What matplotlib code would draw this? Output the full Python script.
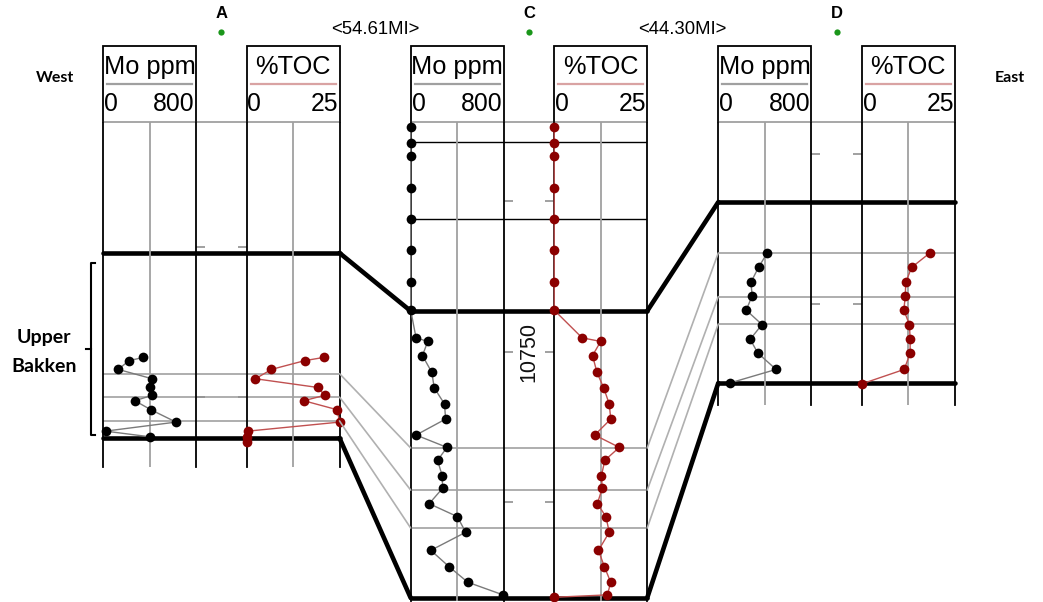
import matplotlib
matplotlib.use("Agg")
import matplotlib.pyplot as plt
from matplotlib.patches import ConnectionPatch

W, H = 1043, 602

# ------------------------------------------------------------------ data
well_names = ["A", "C", "D"]
distance_labels = ["<54.61MI>", "<44.30MI>"]
track_titles = ["Mo ppm", "%TOC"]
track_ranges = [800, 25]
track_range_labels = [("0", "800"), ("0", "25")]

# track depth range of each well (ft)
track_top_depth = [10558.6, 10673.6, 10489.4]
track_bottom_depth = [10673.1, 10832.7, 10583.4]

# Well A
a_mo_depth = [10636.8, 10637.9, 10640.8, 10643.9, 10646.8, 10649.4, 10651.2,
              10654.2, 10658.3, 10661.3, 10663.2]
a_mo = [348, 223, 131, 423, 400, 423, 274, 412, 628, 22, 406]
a_toc_depth = [10636.8, 10637.9, 10640.8, 10643.9, 10646.8, 10649.4, 10651.2,
               10654.2, 10658.3, 10661.3, 10663.2, 10664.8]
a_toc = [20.8, 15.6, 6.7, 2.4, 19.2, 21.0, 15.4, 24.4, 25.0, 0.4, 0.0, 0.0]

# Well C
c_mo_depth = [10675.3, 10680.6, 10684.9, 10695.5, 10705.8, 10716.1, 10726.8,
              10736.1, 10745.3, 10746.5, 10751.2, 10756.8, 10761.9, 10767.3,
              10772.3, 10777.6, 10781.7, 10786.0, 10791.1, 10795.3, 10800.4,
              10804.7, 10809.9, 10815.9, 10821.4, 10826.5, 10830.7]
c_mo = [0, 0, 0, 0, 0, 0, 0, 0, 46, 147, 101, 182, 202, 291, 300, 46, 312,
        231, 271, 274, 159, 401, 473, 173, 332, 491, 794]
c_toc_depth = [10675.3, 10680.6, 10684.9, 10695.5, 10705.8, 10716.1, 10726.8,
               10736.1, 10745.3, 10746.5, 10751.2, 10756.8, 10761.9, 10767.3,
               10772.3, 10777.6, 10781.7, 10786.0, 10791.1, 10795.3, 10800.4,
               10804.7, 10809.9, 10815.9, 10821.4, 10826.5, 10830.7, 10831.5]
c_toc = [0, 0, 0, 0, 0, 0, 0, 0, 7.5, 12.5, 10.3, 11.5, 13.3, 14.8, 15.2, 10.9,
         17.5, 13.6, 12.7, 12.9, 11.6, 13.9, 14.8, 11.9, 13.5, 15.2, 14.3, 0.0]

# Well D
d_mo_depth = [10533.0, 10537.7, 10542.7, 10547.1, 10551.9, 10556.7, 10561.6,
              10566.2, 10571.6, 10576.1]
d_mo = [419, 346, 280, 292, 240, 376, 274, 341, 497, 100]
d_toc_depth = [10533.0, 10537.7, 10542.7, 10547.1, 10551.9, 10556.7, 10561.6,
               10566.2, 10571.6, 10576.4]
d_toc = [18.2, 13.4, 11.8, 11.7, 11.3, 12.8, 13.0, 13.0, 11.4, 0.0]

mo_depths = [a_mo_depth, c_mo_depth, d_mo_depth]
mo_values = [a_mo, c_mo, d_mo]
toc_depths = [a_toc_depth, c_toc_depth, d_toc_depth]
toc_values = [a_toc, c_toc, d_toc]

# formation picks (ft)
upper_bakken_top = [10602.1, 10736.4, 10516.0]
upper_bakken_base = [10663.6, 10831.7, 10576.1]
marker_depths = [[10642.2, 10650.0, 10657.9],
                 [10781.9, 10795.9, 10808.5],
                 [10532.9, 10547.4, 10556.5]]
other_lines = [[], [10680.1, 10705.8], []]
depth_ticks = [[10600, 10650], [10700, 10750, 10800], [10500, 10550]]
depth_labels = [None, "10750", None]

# ------------------------------------------------------------------ layout
PX_PER_FT = 3.01
TOP_Y = 122
HEAD_Y = 46
TW = 93.0            # track width (px)
TOC_OFFSET = 143.5   # Mo-left to TOC-left (px)
mo_left = [103.0, 410.7, 718.3]

HEAD_FONT = "Liberation Sans"
CAL_FONT = "Lato"

fig = plt.figure(figsize=(W / 100, H / 100), dpi=100)
bg = fig.add_axes([0, 0, 1, 1])
bg.set_xlim(0, W)
bg.set_ylim(H, 0)
bg.axis("off")


def rect(x0, y0, x1, y1):
    return [x0 / W, 1 - y1 / H, (x1 - x0) / W, (y1 - y0) / H]


well_axes = []
spacer_centers = []
for i, name in enumerate(well_names):
    x_mo0 = mo_left[i]
    x_mo1 = x_mo0 + TW
    x_toc0 = x_mo0 + TOC_OFFSET
    x_toc1 = x_toc0 + TW
    dtop, dbot = track_top_depth[i], track_bottom_depth[i]
    y_bot = TOP_Y + (dbot - dtop) * PX_PER_FT
    sc = (x_mo1 + x_toc0) / 2
    spacer_centers.append(sc)

    wax = fig.add_axes(rect(x_mo0, TOP_Y, x_toc1, y_bot))
    wax.set_xlim(x_mo0, x_toc1)
    wax.set_ylim(dbot, dtop)
    wax.axis("off")
    wax.patch.set_alpha(0)
    well_axes.append((wax, x_mo0, x_toc1))

    wax.axhline(dtop, color="#a0a0a0", lw=1.3, clip_on=False)
    for m in marker_depths[i]:
        wax.axhline(m, color="#a8a8a8", lw=1.3)
    for d in other_lines[i]:
        wax.axhline(d, color="black", lw=1.0)
    for d in (upper_bakken_top[i], upper_bakken_base[i]):
        wax.axhline(d, color="black", lw=3.3, clip_on=False,
                    solid_capstyle="round")
    for t in depth_ticks[i]:
        wax.hlines(t, x_mo1, x_mo1 + 9, color="#909090", lw=1.2)
        wax.hlines(t, x_toc0 - 9, x_toc0, color="#909090", lw=1.2)
    if depth_labels[i]:
        wax.text(sc, float(depth_labels[i]), depth_labels[i], rotation=90,
                 ha="center", va="center", fontsize=15.5, family=HEAD_FONT,
                 color="#111111",
                 bbox=dict(facecolor="white", edgecolor="none", pad=0.5))

    # data tracks
    specs = [(x_mo0, x_mo1, track_ranges[0], mo_depths[i], mo_values[i],
              "black", "#7a7a7a", "#a0a0a0"),
             (x_toc0, x_toc1, track_ranges[1], toc_depths[i], toc_values[i],
              "#8b0000", "#c05050", "#d9a3a3")]
    for k, (x0, x1, vmax, dep, val, mcol, lcol, ucol) in enumerate(specs):
        tax = fig.add_axes(rect(x0, TOP_Y, x1, y_bot))
        tax.set_xlim(0, vmax)
        tax.set_ylim(dbot, dtop)
        tax.patch.set_alpha(0)
        for s in ("top", "bottom"):
            tax.spines[s].set_visible(False)
        for s in ("left", "right"):
            tax.spines[s].set_color("black")
            tax.spines[s].set_linewidth(1.3)
        tax.set_xticks([])
        tax.set_yticks([])
        tax.axvline(vmax / 2, color="#a0a0a0", lw=1.3)
        tax.plot(val, dep, "-", color=lcol, lw=1.0, zorder=3, clip_on=False)
        tax.plot(val, dep, "o", color=mcol, ms=7, mew=0, zorder=4,
                 clip_on=False)

        # header box
        bg.plot([x0, x0, x1, x1], [TOP_Y, HEAD_Y, HEAD_Y, TOP_Y],
                color="black", lw=1.3, solid_joinstyle="miter")
        bg.text((x0 + x1) / 2, 74, track_titles[k], ha="center",
                va="baseline", fontsize=18.3, family=HEAD_FONT)
        bg.plot([x0 + 4, x1 - 4], [84, 84], color=ucol, lw=1.6)
        lo, hi = track_range_labels[k]
        bg.text(x0 + 1, 111, lo, ha="left", va="baseline", fontsize=17.8,
                family=HEAD_FONT)
        bg.text(x1 - 1, 111, hi, ha="right", va="baseline", fontsize=17.8,
                family=HEAD_FONT)

    # well name and location dot
    bg.text(sc, 13, name, ha="center", va="center", fontsize=12,
            fontweight="bold", family=HEAD_FONT)
    bg.plot(sc, 32, "o", color="#1a961a", ms=4.5, mew=0)

# distances between wells
for j, lab in enumerate(distance_labels):
    bg.text((spacer_centers[j] + spacer_centers[j + 1]) / 2, 30, lab,
            ha="center", va="center", fontsize=13.3, family=HEAD_FONT)

# correlation lines between wells
for j in range(len(well_names) - 1):
    (ax1, _, xr1) = well_axes[j]
    (ax2, xl2, _) = well_axes[j + 1]
    pairs = [(upper_bakken_top[j], upper_bakken_top[j + 1], "black", 3.3)]
    for m1, m2 in zip(marker_depths[j], marker_depths[j + 1]):
        pairs.append((m1, m2, "#b0b0b0", 1.2))
    pairs.append((upper_bakken_base[j], upper_bakken_base[j + 1], "black", 3.3))
    for d1, d2, col, lw in pairs:
        con = ConnectionPatch(xyA=(xr1, d1), coordsA=ax1.transData,
                              xyB=(xl2, d2), coordsB=ax2.transData,
                              color=col, lw=lw, capstyle="round")
        fig.add_artist(con)

# side labels
bg.text(55, 78, "West", ha="center", va="center", fontsize=11.5,
        fontweight="bold", family=CAL_FONT)
bg.text(1010, 78, "East", ha="center", va="center", fontsize=11.5,
        fontweight="bold", family=CAL_FONT)
bg.text(44, 338, "Upper", ha="center", va="center", fontsize=14,
        fontweight="bold", family=CAL_FONT)
bg.text(44, 367, "Bakken", ha="center", va="center", fontsize=14,
        fontweight="bold", family=CAL_FONT)
# bracket
bg.plot([95, 91, 91, 95], [263, 263, 435, 435], color="black", lw=1.5)
bg.plot([86, 91], [349, 349], color="black", lw=1.5)

fig.savefig("out.png", dpi=100)
